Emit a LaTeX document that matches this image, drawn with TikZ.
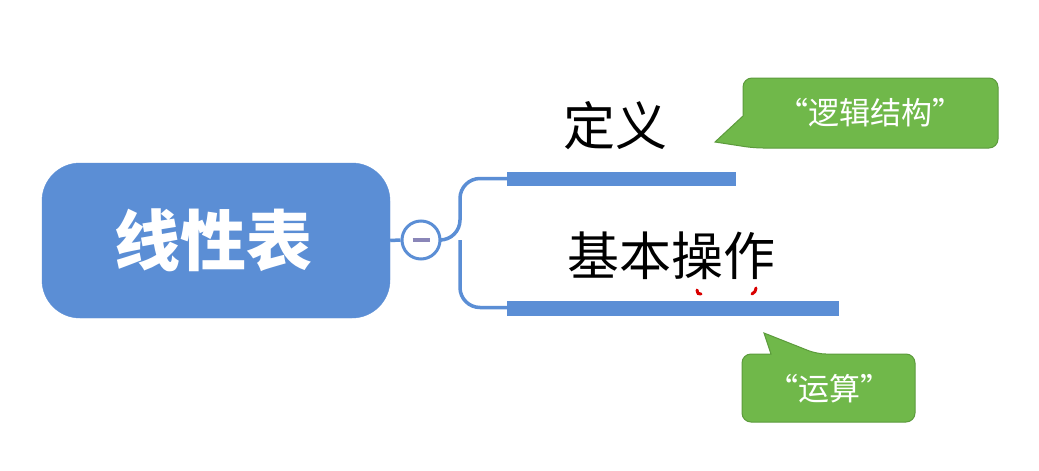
\documentclass[tikz,border=0pt]{standalone}
\usepackage{fontspec}
\newfontfamily\cjk{Noto Sans CJK SC}
\usetikzlibrary{calc}
\definecolor{mblue}{HTML}{5B8ED5}
\definecolor{cgreen}{HTML}{70B84A}
\definecolor{cgreenb}{HTML}{5C9B3C}
\definecolor{minus}{HTML}{8A86B8}
\tikzset{
  mainbox/.style={fill=mblue, draw=mblue, rounded corners=38pt, minimum width=348pt, minimum height=155pt, inner sep=0pt},
  toggle/.style={circle, draw=mblue, line width=3pt, fill=white, minimum size=38pt, inner sep=0pt},
  bar/.style={fill=mblue, draw=none},
  link/.style={draw=mblue, line width=3.5pt, rounded corners=20pt},
  topic/.style={font=\cjk\fontsize{52}{52}\selectfont, inner sep=0pt},
  callout/.style={fill=cgreen, draw=cgreenb, line width=1pt},
  ctext/.style={font=\cjk\fontsize{31}{31}\selectfont, text=white, inner sep=0pt},
  redmark/.style={red!85!black, line width=3pt, line cap=round},
}
\begin{document}
\begin{tikzpicture}[x=1pt,y=-1pt]
\useasboundingbox (0,0) rectangle (1039,471);
\fill[white] (0,0) rectangle (1039,471);
% main node
\node[mainbox] (main) at (216,240.5) {};
\node[font=\cjk\bfseries\fontsize{66}{66}\selectfont, text=white] (maintext) at (213,240) {线性表};
% toggle
\node[toggle] (tog) at (421,240) {};
\draw[minus, line width=3.5pt] ($(tog.center)+(-8.5,0)$) -- ($(tog.center)+(9,0)$);
\draw[mblue, line width=3.5pt] (main.east) -- (tog.west);
% bars
\coordinate (b1) at (508,178.5);
\coordinate (b2) at (508,307.5);
\coordinate (j) at (460,240);
\draw[link] (tog.east) -- (j) |- (b1);
\draw[link] (j) |- (b2);
\fill[bar] (507,171.5) rectangle (736,186) coordinate (bar1);
\fill[bar] (507,301) rectangle (839,316) coordinate (bar2);
% topics
\node[topic] (t1) at (615,126) {定义};
\node[topic] (t2) at (671,256) {基本操作};
% red marks
\draw[redmark] (697,290) .. controls (698,294) .. (701,294);
\draw[redmark] (756,288) .. controls (755,292) .. (752,294);
% callout 1
\draw[callout, rounded corners=9pt] (870,78) -- (998,78) -- (998,148) -- (754,148) [sharp corners] -- (715,142) -- (743,116) -- (743,90) [rounded corners=9pt] -- (743,78) -- cycle;
\node[ctext] (c1) at (870,113) {“逻辑结构”};
% callout 2
\draw[callout, rounded corners=9pt] (829,422) -- (915,422) -- (915,354) -- (817,354) [sharp corners] -- (764,333) -- (771,354) -- (753,354) [rounded corners=9pt] -- (742,354) -- (742,422) -- cycle;
\node[ctext] (c2) at (829,389) {“运算”};
\end{tikzpicture}
\end{document}
